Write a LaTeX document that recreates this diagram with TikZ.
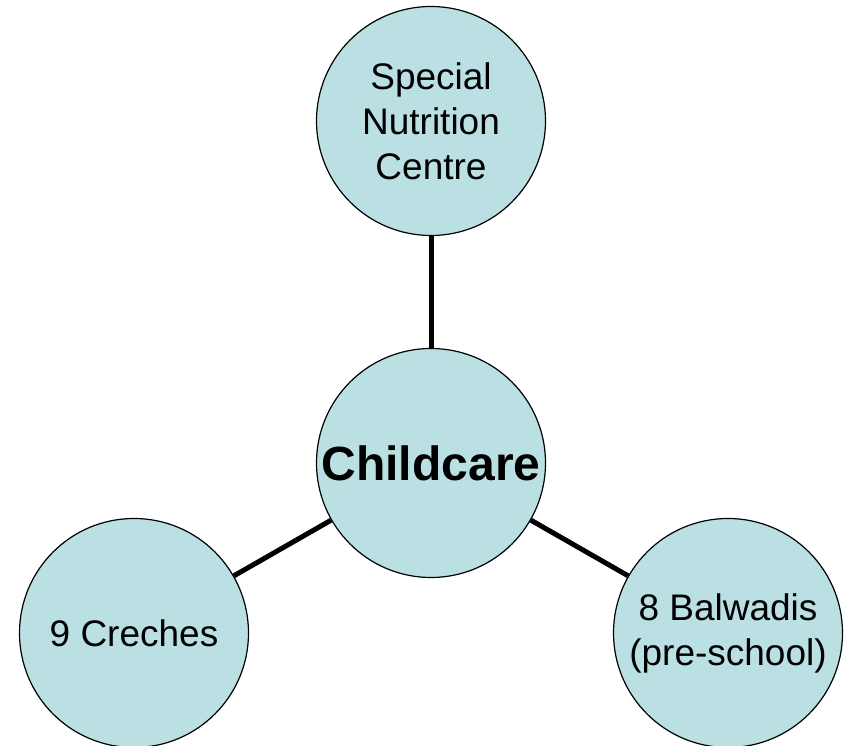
\documentclass[tikz,border=0pt]{standalone}
\usepackage{fontspec}
\setmainfont{Liberation Sans}
\definecolor{bubble}{RGB}{186,224,227}

\begin{document}
\begin{tikzpicture}[x=1pt, y=1pt,
  blob/.style={circle, draw=black, line width=1.2pt, fill=bubble, minimum size=229pt, inner sep=0pt, align=center, font=\fontsize{37}{45}\selectfont},
  link/.style={line width=5pt}]

\useasboundingbox (0,0) rectangle (848,746);

\node [blob] (care) at (431,283) {\fontsize{48}{58}\selectfont\bfseries Childcare};
\node [blob] (snc) at (431,625) {Special\\Nutrition\\Centre};
\node [blob] (creche) at (134,113) {9 Creches};
\node [blob] (balwadi) at (728,113) {8 Balwadis\\(pre-school)};

\draw [link] (care) -- (snc);
\draw [link] (care) -- (creche);
\draw [link] (care) -- (balwadi);

\end{tikzpicture}
\end{document}
